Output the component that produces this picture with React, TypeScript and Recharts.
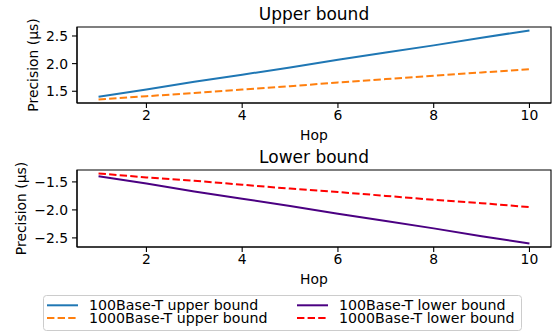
import { LineChart, Line, XAxis, YAxis, ReferenceArea } from 'recharts';

// hop index on the x axis
const hops = [1, 2, 3, 4, 5, 6, 7, 8, 9, 10];

// precision values (µs)
const upper100 = [1.4, 1.53, 1.67, 1.8, 1.93, 2.07, 2.2, 2.33, 2.47, 2.6];
const upper1000 = [1.35, 1.41, 1.47, 1.53, 1.59, 1.66, 1.72, 1.78, 1.84, 1.9];
const lower100 = [-1.4, -1.53, -1.67, -1.8, -1.93, -2.07, -2.2, -2.33, -2.47, -2.6];
const lower1000 = [-1.35, -1.42, -1.48, -1.55, -1.62, -1.68, -1.75, -1.82, -1.88, -1.95];

const hopTicks = [2, 4, 6, 8, 10];
const upperTicks = [1.5, 2.0, 2.5];
const lowerTicks = [-2.5, -2.0, -1.5];

const hopDomain: [number, number] = [0.55, 10.45];
const upperDomain: [number, number] = [1.2875, 2.6625];
const lowerDomain: [number, number] = [-2.6625, -1.2875];

const SERIES = [
  { key: 'u100', name: '100Base-T upper bound', color: '#1f77b4', dash: undefined },
  { key: 'u1000', name: '1000Base-T upper bound', color: '#ff7f0e', dash: '7.4 3.2' },
  { key: 'l100', name: '100Base-T lower bound', color: '#4b0082', dash: undefined },
  { key: 'l1000', name: '1000Base-T lower bound', color: '#ff0000', dash: '7.4 3.2' },
];

const upperData = hops.map((hop, i) => ({ hop, u100: upper100[i], u1000: upper1000[i] }));
const lowerData = hops.map((hop, i) => ({ hop, l100: lower100[i], l1000: lower1000[i] }));

const FONT = '"DejaVu Sans", sans-serif';
const FS = 13.9;

const fmt = (v: number) => (v < 0 ? '\u2212' + Math.abs(v).toFixed(1) : v.toFixed(1));

const titleLabel = (text: string) => (props: any) => {
  const vb = props.viewBox;
  return (
    <text x={vb.x + vb.width / 2} y={vb.y - 7} textAnchor="middle" fontSize={17} fill="#000">
      {text}
    </text>
  );
};

const hopLabel = (props: any) => {
  const vb = props.viewBox;
  return (
    <text x={vb.x + vb.width / 2} y={vb.y + 36.5} textAnchor="middle" fontSize={FS} fill="#000">
      Hop
    </text>
  );
};

const precisionLabel = (bx: number) => (props: any) => {
  const vb = props.viewBox;
  const cy = vb.y + vb.height / 2;
  return (
    <text x={bx} y={cy} transform={`rotate(-90 ${bx} ${cy})`} textAnchor="middle" fontSize={FS} fill="#000">
      Precision (µs)
    </text>
  );
};

interface PanelProps {
  top: number;
  height: number;
  data: Record<string, number>[];
  title: string;
  yDomain: [number, number];
  yTicks: number[];
  labelX: number;
  keys: string[];
}

function Panel({ top, height, data, title, yDomain, yTicks, labelX, keys }: PanelProps) {
  const tick = { fill: '#000', fontSize: FS };
  return (
    <div style={{ position: 'absolute', left: 0, top }}>
      <LineChart width={554} height={height} data={data} margin={{ top: 27, right: 3, bottom: 0, left: 0 }}>
        <XAxis
          dataKey="hop"
          type="number"
          domain={hopDomain}
          ticks={hopTicks}
          height={42}
          tickSize={5}
          tickMargin={2.5}
          stroke="#000"
          strokeWidth={1.1}
          tick={tick}
          label={{ content: hopLabel }}
        />
        <YAxis
          type="number"
          domain={yDomain}
          ticks={yTicks}
          width={77}
          tickSize={5}
          tickMargin={4}
          tickFormatter={fmt}
          stroke="#000"
          strokeWidth={1.1}
          tick={tick}
          label={{ content: precisionLabel(labelX) }}
        />
        {/* axes frame (matplotlib spines) + panel title */}
        <ReferenceArea
          x1={hopDomain[0]}
          x2={hopDomain[1]}
          y1={yDomain[0]}
          y2={yDomain[1]}
          fill="none"
          fillOpacity={0}
          stroke="#000"
          strokeWidth={1.1}
          label={{ content: titleLabel(title) }}
        />
        {SERIES.filter((s) => keys.includes(s.key)).map((s) => (
          <Line
            key={s.key}
            dataKey={s.key}
            name={s.name}
            stroke={s.color}
            strokeWidth={2}
            strokeDasharray={s.dash}
            dot={false}
            activeDot={false}
            isAnimationActive={false}
          />
        ))}
      </LineChart>
    </div>
  );
}

function LegendBox() {
  const cols = [47, 297];
  const rows = [305.3, 318];
  return (
    <svg width={554} height={332} style={{ position: 'absolute', left: 0, top: 0, pointerEvents: 'none' }}>
      <rect x={43.5} y={295.5} width={478} height={35} rx={3} fill="#fff" fillOpacity={0.8} stroke="#cccccc" />
      {SERIES.map((s, i) => {
        const x = cols[Math.floor(i / 2)];
        const y = rows[i % 2];
        return (
          <g key={s.key}>
            <line x1={x} x2={x + 31} y1={y} y2={y} stroke={s.color} strokeWidth={2} strokeDasharray={s.dash} />
            <text x={x + 42} y={y + 4.8} fontSize={14.2} fill="#000">
              {s.name}
            </text>
          </g>
        );
      })}
    </svg>
  );
}

export default function App() {
  return (
    <div style={{ position: 'absolute', left: 0, top: 0, width: 554, height: 332, background: '#fff', fontFamily: FONT }}>
      <Panel
        top={0}
        height={145}
        data={upperData}
        title="Upper bound"
        yDomain={upperDomain}
        yTicks={upperTicks}
        labelX={37.5}
        keys={['u100', 'u1000']}
      />
      <Panel
        top={143}
        height={146}
        data={lowerData}
        title="Lower bound"
        yDomain={lowerDomain}
        yTicks={lowerTicks}
        labelX={25.5}
        keys={['l100', 'l1000']}
      />
      <LegendBox />
    </div>
  );
}
